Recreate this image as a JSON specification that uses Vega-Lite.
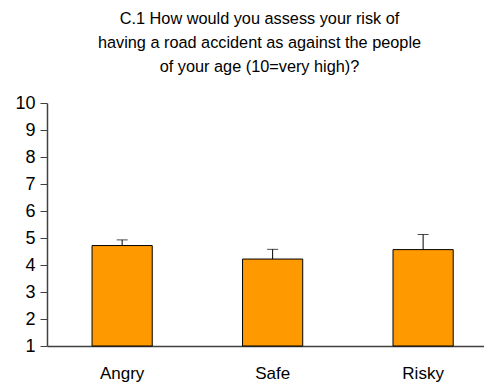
{
  "$schema": "https://vega.github.io/schema/vega-lite/v6.json",
  "autosize": {"type": "none"},
  "padding": {"left": 47, "top": 103, "right": 0, "bottom": 46},
  "width": 437,
  "height": 243,
  "background": "white",
  "title": {
    "text": ["C.1 How would you assess your risk of", "having a road accident as against the people", "of your age (10=very high)?"],
    "font": "Liberation Sans",
    "fontSize": 16.3,
    "fontWeight": "normal",
    "color": "black",
    "lineHeight": 24,
    "anchor": "middle",
    "frame": "group",
    "dx": -6,
    "offset": 19
  },
  "data": {
    "values": [
      {"group": "Angry", "mean": 4.72, "upper": 4.93},
      {"group": "Safe", "mean": 4.22, "upper": 4.58},
      {"group": "Risky", "mean": 4.57, "upper": 5.13}
    ]
  },
  "config": {
    "view": {"stroke": null},
    "axis": {"labelFont": "Liberation Sans", "labelColor": "black"},
    "axisY": {"labelFontSize": 18},
    "axisX": {"labelFontSize": 17}
  },
  "encoding": {
    "x": {
      "field": "group",
      "type": "nominal",
      "sort": ["Angry", "Safe", "Risky"],
      "scale": {"paddingInner": 0.6, "paddingOuter": 0.252, "align": 0.594},
      "axis": {"title": null, "labelAngle": 0, "ticks": false, "labelPadding": 19, "domainWidth": 1.5, "domainColor": "#404040", "labelFont": "Liberation Sans", "labelFontSize": 17, "labelColor": "black", "grid": false}
    },
    "y": {
      "field": "mean",
      "type": "quantitative",
      "scale": {"domain": [1, 10], "nice": false, "zero": false},
      "axis": {"title": null, "values": [1, 2, 3, 4, 5, 6, 7, 8, 9, 10], "tickSize": 7, "labelPadding": 5, "domainWidth": 1.5, "domainColor": "#404040", "tickColor": "#404040", "labelFont": "Liberation Sans", "labelFontSize": 18, "labelColor": "black", "labelOverlap": false, "labelFlush": false, "grid": false}
    }
  },
  "layer": [
    {
      "mark": {"type": "bar", "fill": "#FF9900", "stroke": "black", "strokeWidth": 1},
      "encoding": {
        "y2": {"datum": 1}
      }
    },
    {
      "mark": {"type": "rule", "color": "black", "strokeWidth": 1},
      "encoding": {
        "y2": {"field": "upper"}
      }
    },
    {
      "mark": {"type": "tick", "color": "black", "size": 11, "thickness": 1, "orient": "horizontal"},
      "encoding": {
        "y": {
          "field": "upper",
          "type": "quantitative",
          "axis": {"title": null, "values": [1, 2, 3, 4, 5, 6, 7, 8, 9, 10], "tickSize": 7, "labelPadding": 5, "domainWidth": 1.5, "domainColor": "#404040", "tickColor": "#404040", "labelFont": "Liberation Sans", "labelFontSize": 18, "labelColor": "black", "labelOverlap": false, "labelFlush": false, "grid": false}
        }
      }
    }
  ]
}
